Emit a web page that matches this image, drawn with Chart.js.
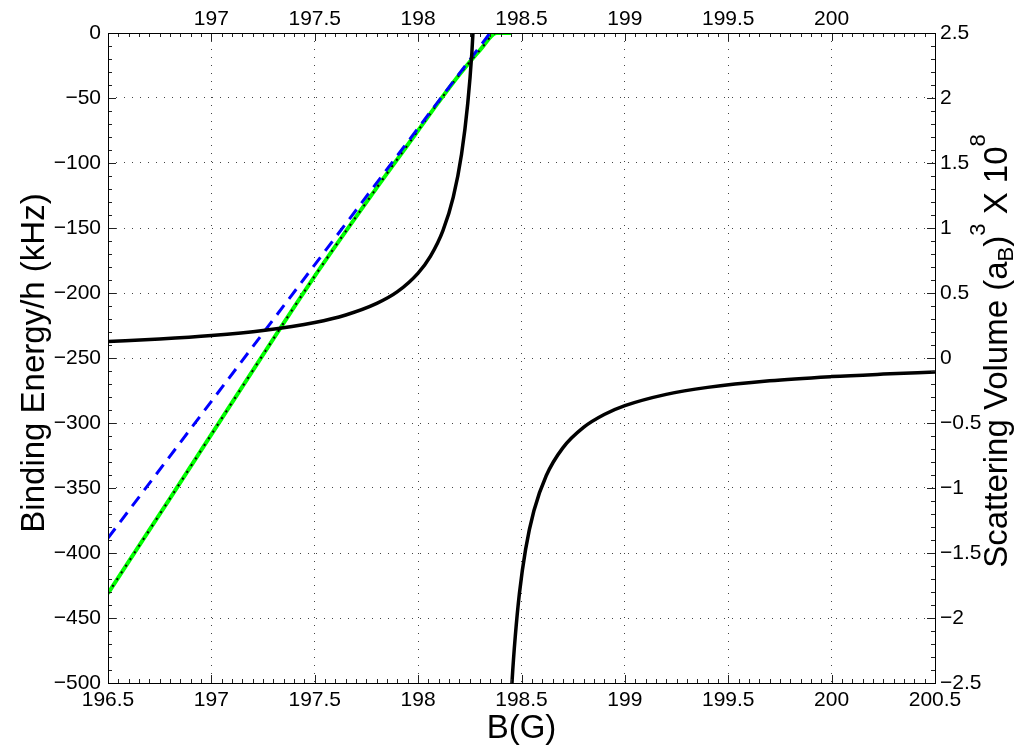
<!DOCTYPE html>
<html><head><meta charset="utf-8">
<script src="https://cdn.jsdelivr.net/npm/chart.js@4/dist/chart.umd.min.js"></script>
<style>html,body{margin:0;padding:0;background:#fff;}#wrap{width:1027px;height:748px;position:relative;}</style>
</head><body><div id="wrap"><canvas id="c" width="1027" height="748"></canvas></div>
<script>
// ---- tick values / labels ----
const xTicks = [196.5, 197, 197.5, 198, 198.5, 199, 199.5, 200, 200.5];
const topTickLabels = ['', '197', '197.5', '198', '198.5', '199', '199.5', '200', ''];
const yLeftTicks = [0, -50, -100, -150, -200, -250, -300, -350, -400, -450, -500];
const yRightTicks = [2.5, 2, 1.5, 1, 0.5, 0, -0.5, -1, -1.5, -2, -2.5];

// ---- scattering volume (right axis), branch below resonance ----
const svLowB = [196.5, 196.75, 197.0, 197.25, 197.5, 197.65, 197.8, 197.9, 198.0, 198.06, 198.12, 198.17, 198.21, 198.24, 198.26, 198.28];
const svLowV = [0.126, 0.146, 0.173, 0.212, 0.273, 0.331, 0.42, 0.51, 0.653, 0.783, 0.979, 1.237, 1.567, 1.958, 2.35, 2.94];
// ---- scattering volume, branch above resonance ----
const svHighB = [198.44, 198.455, 198.47, 198.49, 198.52, 198.56, 198.62, 198.7, 198.8, 198.9, 199.0, 199.2, 199.4, 199.7, 200.0, 200.25, 200.5];
const svHighV = [-2.94, -2.47, -2.14, -1.81, -1.47, -1.175, -0.904, -0.691, -0.534, -0.435, -0.367, -0.28, -0.226, -0.175, -0.143, -0.124, -0.108];

// ---- binding energy (left axis) ----
const greenB = [196.5, 196.8, 197.15, 197.5, 197.8, 198.0, 198.1, 198.2, 198.3, 198.38, 198.45];
const greenE = [-431, -358, -272, -187, -119, -75, -53, -32, -13, 0, 0];
const blueB = [196.5, 198.348];
const blueE = [-388.5, 0];

const FONT = '"Liberation Sans", Arial, Helvetica, sans-serif';
const pts = (xs, ys) => xs.map((x, i) => ({x: x, y: ys[i]}));
const fmt = v => (v < 0 ? '\u2212' : '') + String(Math.abs(v));

const framePlugin = {
  id: 'frame',
  afterDatasetsDraw(chart) {
    const ctx = chart.ctx, a = chart.chartArea;
    const sx = chart.scales.x, sy = chart.scales.y;
    ctx.save();
    ctx.strokeStyle = '#222';
    ctx.lineWidth = 1;
    ctx.beginPath();
    xTicks.forEach(v => {
      const p = Math.round(sx.getPixelForValue(v)) + 0.5;
      ctx.moveTo(p, a.bottom); ctx.lineTo(p, a.bottom - 8);
      ctx.moveTo(p, a.top); ctx.lineTo(p, a.top + 8);
    });
    for (let i = 0; i < xTicks.length - 1; i++) {
      for (let k = 1; k < 10; k++) {
        const v = xTicks[i] + (xTicks[i + 1] - xTicks[i]) * k / 10;
        const p = Math.round(sx.getPixelForValue(v)) + 0.5;
        ctx.moveTo(p, a.bottom); ctx.lineTo(p, a.bottom - 4);
        ctx.moveTo(p, a.top); ctx.lineTo(p, a.top + 4);
      }
    }
    yLeftTicks.forEach(v => {
      const p = Math.round(sy.getPixelForValue(v)) + 0.5;
      ctx.moveTo(a.left, p); ctx.lineTo(a.left + 8, p);
      ctx.moveTo(a.right, p); ctx.lineTo(a.right - 8, p);
    });
    for (let i = 0; i < yLeftTicks.length - 1; i++) {
      for (let k = 1; k < 5; k++) {
        const v = yLeftTicks[i] + (yLeftTicks[i + 1] - yLeftTicks[i]) * k / 5;
        const p = Math.round(sy.getPixelForValue(v)) + 0.5;
        ctx.moveTo(a.left, p); ctx.lineTo(a.left + 4, p);
        ctx.moveTo(a.right, p); ctx.lineTo(a.right - 4, p);
      }
    }
    ctx.stroke();
    ctx.strokeStyle = '#000';
    ctx.strokeRect(Math.round(a.left) + 0.5, Math.round(a.top) + 0.5, Math.round(a.right - a.left), Math.round(a.bottom - a.top));
    ctx.restore();
  },
  afterDraw(chart) {
    const ctx = chart.ctx, a = chart.chartArea;
    ctx.save();
    ctx.fillStyle = '#000';
    ctx.font = '33px ' + FONT;
    ctx.textAlign = 'center';
    ctx.textBaseline = 'alphabetic';
    ctx.fillText('B(G)', (a.left + a.right) / 2, 738);
    ctx.save();
    ctx.translate(44, 363);
    ctx.rotate(-Math.PI / 2);
    ctx.fillText('Binding Energy/h (kHz)', 0, 0);
    ctx.restore();
    const size = 33, small = 22;
    const parts = [
      {t: 'Scattering Volume (a', f: size, dy: 0},
      {t: 'B', f: small, dy: 6},
      {t: ')', f: size, dy: 0},
      {t: '3', f: small, dy: -22},
      {t: ' X 10', f: size, dy: 0},
      {t: '8', f: small, dy: -22}
    ];
    let total = 0;
    parts.forEach(p => { ctx.font = p.f + 'px ' + FONT; p.w = ctx.measureText(p.t).width; total += p.w; });
    ctx.save();
    ctx.translate(1007, 351);
    ctx.rotate(-Math.PI / 2);
    ctx.textAlign = 'left';
    let x = -total / 2;
    parts.forEach(p => { ctx.font = p.f + 'px ' + FONT; ctx.fillText(p.t, x, p.dy); x += p.w; });
    ctx.restore();
    ctx.restore();
  }
};

const tickFont = {family: FONT, size: 21};

new Chart(document.getElementById('c'), {
  type: 'line',
  data: {
    datasets: [
      {data: pts(svLowB, svLowV), xAxisID: 'x', yAxisID: 'y2', borderColor: '#000', borderWidth: 3.5, pointRadius: 0, cubicInterpolationMode: 'monotone', clip: 0},
      {data: pts(svHighB, svHighV), xAxisID: 'x', yAxisID: 'y2', borderColor: '#000', borderWidth: 3.5, pointRadius: 0, cubicInterpolationMode: 'monotone', clip: 0},
      {data: pts(blueB, blueE), xAxisID: 'x', yAxisID: 'y', borderColor: '#0000ff', borderWidth: 3, borderDash: [12, 8], pointRadius: 0, clip: 0},
      {data: pts(greenB, greenE), xAxisID: 'x', yAxisID: 'y', borderColor: '#000', borderWidth: 2, borderDash: [2, 6], pointRadius: 0, cubicInterpolationMode: 'monotone', clip: 0},
      {data: pts(greenB, greenE), xAxisID: 'x', yAxisID: 'y', borderColor: '#00ff00', borderWidth: 4, pointRadius: 0, cubicInterpolationMode: 'monotone', clip: 0}
    ]
  },
  options: {
    responsive: false, animation: false, devicePixelRatio: 1,
    layout: {padding: 0},
    plugins: {legend: {display: false}, tooltip: {enabled: false}},
    scales: {
      x: {
        type: 'linear', position: 'bottom', min: 196.5, max: 200.5,
        afterBuildTicks: s => { s.ticks = xTicks.map(v => ({value: v})); },
        afterFit: s => { s.height = 65; },
        ticks: {autoSkip: false, maxRotation: 0, minRotation: 0, padding: 5, color: '#000', font: tickFont, callback: v => fmt(v)},
        grid: {color: '#444', lineWidth: 1, drawTicks: false},
        border: {display: false, dash: [1, 7]}
      },
      xTop: {
        type: 'linear', position: 'top', min: 196.5, max: 200.5,
        afterBuildTicks: s => { s.ticks = xTicks.map(v => ({value: v})); },
        afterFit: s => { s.height = 33; },
        ticks: {autoSkip: false, maxRotation: 0, minRotation: 0, padding: 1, color: '#000', font: tickFont, callback: (v, i) => topTickLabels[i]},
        grid: {display: false, drawTicks: false},
        border: {display: false}
      },
      y: {
        type: 'linear', position: 'left', min: -500, max: 0,
        afterBuildTicks: s => { s.ticks = yLeftTicks.map(v => ({value: v})); },
        afterFit: s => { s.width = 108; },
        ticks: {autoSkip: false, padding: 7, color: '#000', font: tickFont, callback: v => fmt(v)},
        grid: {color: '#444', lineWidth: 1, drawTicks: false},
        border: {display: false, dash: [1, 7]}
      },
      y2: {
        type: 'linear', position: 'right', min: -2.5, max: 2.5,
        afterBuildTicks: s => { s.ticks = yRightTicks.map(v => ({value: v})); },
        afterFit: s => { s.width = 92; },
        ticks: {autoSkip: false, padding: 5, color: '#000', font: tickFont, callback: v => fmt(v)},
        grid: {display: false, drawTicks: false},
        border: {display: false}
      }
    }
  },
  plugins: [framePlugin]
});
</script>
</body></html>
